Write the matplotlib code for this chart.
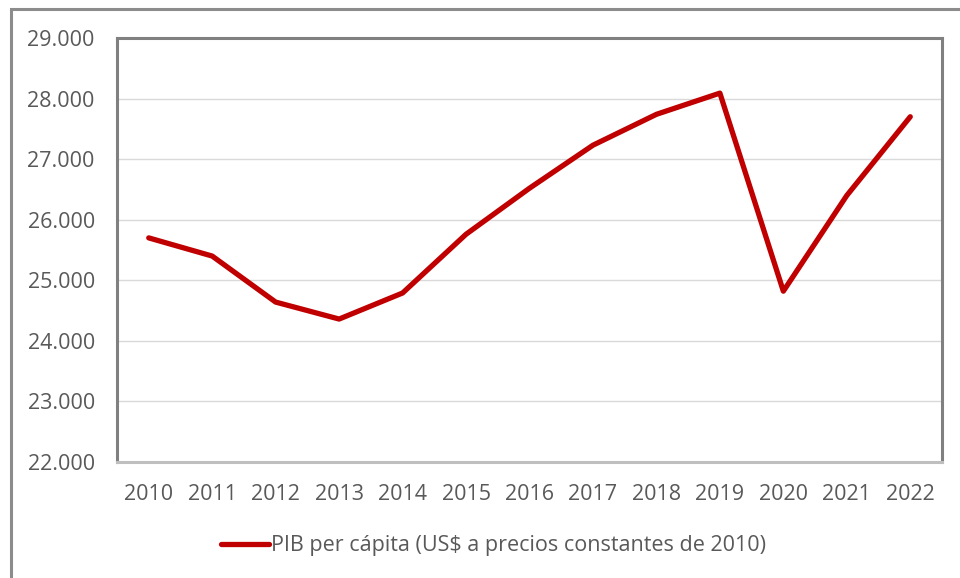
import matplotlib.pyplot as plt
from matplotlib.patches import Rectangle
from matplotlib.ticker import FuncFormatter

years = ["2010", "2011", "2012", "2013", "2014", "2015", "2016",
         "2017", "2018", "2019", "2020", "2021", "2022"]
pib = [25700, 25400, 24640, 24360, 24790, 25760, 26520,
       27230, 27740, 28090, 24820, 26400, 27700]
label = "PIB per cápita (US$ a precios constantes de 2010)"

plt.rcParams['font.family'] = ['Open Sans', 'DejaVu Sans']

fig = plt.figure(figsize=(9.6, 5.78), dpi=100)
ax = fig.add_axes([117 / 960, 116 / 578, 825 / 960, 424 / 578])

x = range(len(years))
line, = ax.plot(x, pib, color="#C00000", lw=3.8, solid_capstyle="round",
                solid_joinstyle="round", label=label)

ax.set_xlim(-0.5, len(years) - 0.5)
ax.set_ylim(22000, 29000)
ax.set_yticks(range(22000, 29001, 1000))
ax.yaxis.set_major_formatter(FuncFormatter(lambda v, p: f"{int(v):,}".replace(",", ".")))
ax.set_xticks(list(x))
ax.set_xticklabels(years)
ax.tick_params(axis="both", length=0, labelsize=15.5, labelcolor="#595959")
ax.tick_params(axis="y", pad=16)
ax.tick_params(axis="x", pad=16)
ax.grid(axis="y", color="#D9D9D9", lw=1)
ax.set_axisbelow(True)

for s in ["left", "top", "right"]:
    ax.spines[s].set_color("#808080")
    ax.spines[s].set_linewidth(2.2)
ax.spines["bottom"].set_color("#BFBFBF")
ax.spines["bottom"].set_linewidth(2.2)

fig.legend(handles=[line], loc="center", bbox_to_anchor=(0.514, 1 - 546 / 578),
           frameon=False, fontsize=15.5, handlelength=2.2, handletextpad=0.1,
           labelcolor="#595959")

# outer chart border
fig.patches.append(Rectangle((11 / 960, -0.1), 1.2, 1.1 - 9 / 578,
                             transform=fig.transFigure, fill=False,
                             edgecolor="#8C8C8C", lw=2.2))

fig.savefig("out.png", dpi=100)
